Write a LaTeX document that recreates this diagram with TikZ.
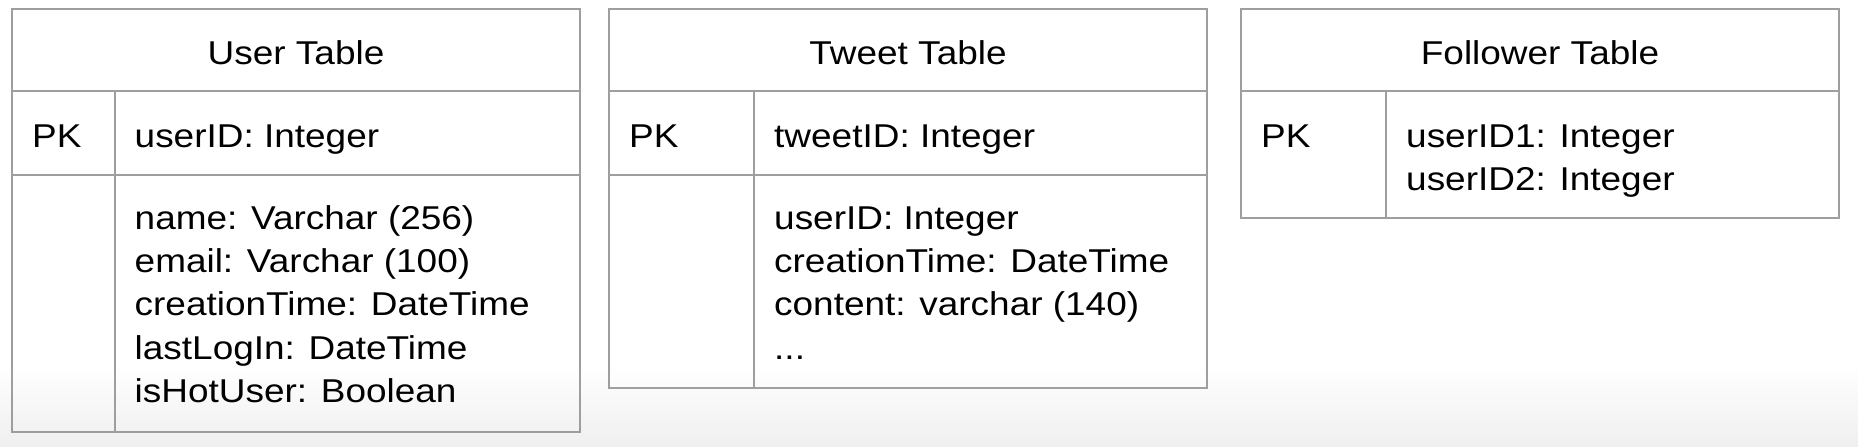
\documentclass[tikz,border=0pt]{standalone}
\usepackage{fontspec}
\setmainfont{Liberation Sans}[FakeStretch=1.12]
\definecolor{linegray}{RGB}{158,158,158}
\definecolor{bgbottom}{RGB}{239,239,239}
\begin{document}
\begin{tikzpicture}[x=1pt,y=-1pt,
  tbl/.style={draw=linegray, line width=2pt},
  fld/.style={anchor=base west, inner sep=0pt, font=\fontsize{33}{43.4}\selectfont},
  ttl/.style={anchor=base, inner sep=0pt, font=\fontsize{33}{43.4}\selectfont}]
\useasboundingbox (0,0) rectangle (1858,447);
\shade[top color=white, bottom color=bgbottom] (0,365) rectangle (1858,447);
% User table
\draw[tbl] (12,9) rectangle (580,432);
\draw[tbl] (12,91) -- (580,91);
\draw[tbl] (12,175) -- (580,175);
\draw[tbl] (114.5,91) -- (114.5,432);
\node[ttl] (ut) at (296,64) {User Table};
\node[fld] (upk) at (32,147) {PK};
\node[fld] (uid) at (134.5,147) {userID: Integer};
\node[fld] (u1) at (134.5,229) {name: Varchar (256)};
\node[fld] (u2) at (134.5,272.4) {email: Varchar (100)};
\node[fld] (u3) at (134.5,315.8) {creationTime: DateTime};
\node[fld] (u4) at (134.5,359.2) {lastLogIn: DateTime};
\node[fld] (u5) at (134.5,402.6) {isHotUser: Boolean};
% Tweet table
\draw[tbl] (609,9) rectangle (1207,388);
\draw[tbl] (609,91) -- (1207,91);
\draw[tbl] (609,175) -- (1207,175);
\draw[tbl] (754,91) -- (754,388);
\node[ttl] (tt) at (908,64) {Tweet Table};
\node[fld] (tpk) at (629,147) {PK};
\node[fld] (tid) at (774,147) {tweetID: Integer};
\node[fld] (t1) at (774,229) {userID: Integer};
\node[fld] (t2) at (774,272.4) {creationTime: DateTime};
\node[fld] (t3) at (774,315.8) {content: varchar (140)};
\node[fld] (t4) at (774,359.2) {...};
% Follower table
\draw[tbl] (1241,9) rectangle (1839,218);
\draw[tbl] (1241,91) -- (1839,91);
\draw[tbl] (1386,91) -- (1386,218);
\node[ttl] (ft) at (1540,64) {Follower Table};
\node[fld] (fpk) at (1261,147) {PK};
\node[fld] (f1) at (1406,147) {userID1: Integer};
\node[fld] (f2) at (1406,190.4) {userID2: Integer};
\end{tikzpicture}
\end{document}
